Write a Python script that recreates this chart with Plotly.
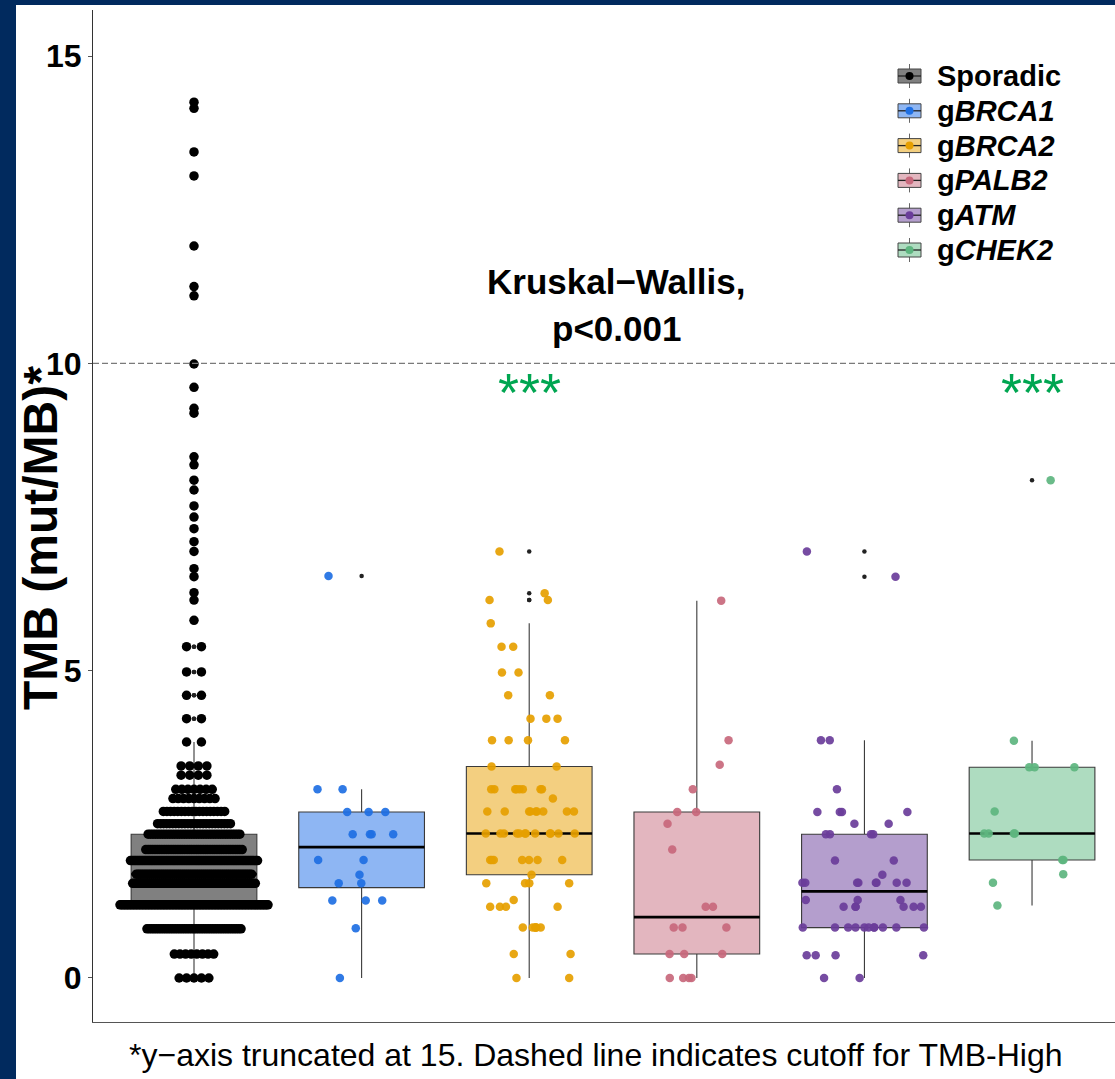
import numpy as np
import plotly.graph_objects as go

# ---------------- data ----------------
groups = ["Sporadic", "gBRCA1", "gBRCA2", "gPALB2", "gATM", "gCHEK2"]
legend_labels = ["<b>Sporadic</b>", "<b>g<i>BRCA1</i></b>", "<b>g<i>BRCA2</i></b>",
                 "<b>g<i>PALB2</i></b>", "<b>g<i>ATM</i></b>", "<b>g<i>CHEK2</i></b>"]

sporadic_tmb = [0.00, 0.39, 0.80, 1.19, 1.54, 1.69, 1.91, 2.09, 2.34, 2.51, 2.71, 2.92,
                3.07, 3.30, 3.45, 3.84, 4.22, 4.60, 4.98, 5.39, 5.82, 6.15, 6.27, 6.53,
                6.66, 6.94, 7.10, 7.31, 7.50, 7.68, 7.94, 8.10, 8.35, 8.48, 9.19, 9.27,
                9.61, 9.99, 11.10, 11.25, 11.91, 13.05, 13.44, 14.15, 14.25]
sporadic_n = [5, 8, 41, 100, 69, 61, 74, 43, 39, 25, 18, 9,
              7, 4, 4, 2, 2, 2, 2, 2, 1, 1, 1, 1,
              1, 1, 1, 1, 1, 1, 1, 1, 1, 1, 1, 1,
              1, 1, 1, 1, 1, 1, 1, 1, 1]

brca1_tmb = [0.00, 0.81, 1.26, 1.54, 1.68, 1.92, 2.34, 2.70, 3.07, 6.54]
brca1_n = [1, 1, 3, 2, 1, 2, 4, 3, 2, 1]

brca2_tmb = [0.00, 0.39, 0.82, 1.16, 1.27, 1.54, 1.68, 1.92, 2.35, 2.71, 2.92, 3.07,
             3.44, 3.87, 4.22, 4.60, 4.97, 5.39, 5.77, 6.15, 6.26, 6.94]
brca2_n = [2, 2, 6, 4, 1, 4, 1, 7, 12, 9, 1, 8, 2, 4, 3, 2, 2, 2, 1, 2, 1, 1]

palb2_tmb = [0.00, 0.39, 0.82, 1.16, 2.09, 2.51, 2.70, 3.07, 3.47, 3.87, 6.14]
palb2_n = [4, 3, 3, 2, 1, 1, 2, 1, 1, 1, 1]

atm_tmb = [0.00, 0.37, 0.82, 1.16, 1.27, 1.55, 1.68, 1.91, 2.34, 2.51, 2.70, 3.07,
           3.87, 6.53, 6.94]
atm_n = [2, 4, 11, 6, 3, 8, 1, 2, 4, 2, 4, 1, 2, 1, 1]

chek2_tmb = [1.18, 1.55, 1.69, 1.92, 2.35, 2.71, 3.43, 3.86, 8.10]
chek2_n = [1, 1, 1, 2, 4, 1, 3, 1, 1]

tmb_high_cutoff = 10
y_ticks = [0, 5, 10, 15]
kw_label = ["Kruskal\u2212Wallis,", "p<0.001"]
sig_groups = ["gBRCA2", "gCHEK2"]
y_title = "TMB (mut/MB)*"
caption = "*y\u2212axis truncated at 15. Dashed line indicates cutoff for TMB-High"

# ---------------- styles ----------------
point_colors = ["#000000", "#1E6FE3", "#E69F00", "#C8687C", "#6A3D9A", "#5DB57F"]
fill_colors = ["#808080", "#8EB6F3", "#F3CF80", "#E3B6BF", "#B49ECD", "#AEDCC0"]
jitter_half = [None, 0.27, 0.28, 0.20, 0.37, 0.30]
FONT = "Liberation Sans, Arial, sans-serif"
NAVY = "#012A5E"
L, R, T, B = 93, 0, 10, 57
W, H = 1115, 1079
pw, ph = W - L - R, H - T - B


def px_x(px):
    return (px - L) / pw


def px_y(py):
    return (H - B - py) / ph


series = [(sporadic_tmb, sporadic_n), (brca1_tmb, brca1_n), (brca2_tmb, brca2_n),
          (palb2_tmb, palb2_n), (atm_tmb, atm_n), (chek2_tmb, chek2_n)]

box_w = 0.75
fig = go.Figure()


def expand(vals, ns):
    return np.repeat(np.array(vals, dtype=float), ns)


def jitter_offsets(n, half, seed):
    # deterministic hash-based jitter (layout only)
    i = np.arange(n, dtype=float)
    r = np.modf(np.abs(np.sin((i + 1.0) * 12.9898 + seed * 78.233) * 43758.5453))[0]
    return (r - 0.5) * 2 * half


def swarm_offsets(vals, ns, span_max):
    kmax = max(ns)
    offs = []
    for v, k in zip(vals, ns):
        if k == 1:
            offs.append(np.zeros(1))
        else:
            s = span_max * np.sqrt((k - 1) / (kmax - 1))
            offs.append(np.linspace(-s / 2, s / 2, k))
    return np.concatenate(offs)


stats = []
for gi, (vals, ns) in enumerate(series):
    y = expand(vals, ns)
    q1, med, q3 = np.percentile(y, [25, 50, 75])
    iqr = q3 - q1
    lo = y[y >= q1 - 1.5 * iqr].min()
    hi = y[y <= q3 + 1.5 * iqr].max()
    outl = y[(y < lo) | (y > hi)]
    stats.append((y, q1, med, q3, lo, hi, outl))
    fig.add_trace(go.Box(
        x=[gi], q1=[q1], median=[med], q3=[q3], lowerfence=[lo], upperfence=[hi],
        width=box_w, whiskerwidth=0, fillcolor=fill_colors[gi],
        line=dict(color="#3a3a3a", width=1.1), boxpoints=False,
        name=groups[gi], hoverinfo="skip", showlegend=False))

# median lines (thicker, as in ggplot)
for gi, st in enumerate(stats):
    med = st[2]
    fig.add_trace(go.Scatter(x=[gi - box_w / 2, gi + box_w / 2], y=[med, med], mode="lines",
                             line=dict(color="black", width=2.6), showlegend=False,
                             hoverinfo="skip"))

# boxplot outliers (small dark dots)
for gi, st in enumerate(stats):
    outl = st[6]
    if len(outl):
        fig.add_trace(go.Scatter(x=np.full(len(outl), gi), y=outl, mode="markers",
                                 marker=dict(size=4.5, color="#222222"),
                                 showlegend=False, hoverinfo="skip"))

# data points
for gi, (vals, ns) in enumerate(series):
    y = stats[gi][0]
    if gi == 0:
        off = swarm_offsets(vals, ns, 0.883)
        size, op = 9.5, 1.0
    else:
        off = jitter_offsets(len(y), jitter_half[gi], gi)
        size, op = 8.5, 0.92
    fig.add_trace(go.Scatter(x=gi + off, y=y, mode="markers",
                             marker=dict(size=size, color=point_colors[gi], opacity=op,
                                         line=dict(width=0)),
                             showlegend=False, hoverinfo="skip"))

# ---------------- shapes ----------------
# white panel over the navy frame
fig.add_shape(type="rect", xref="paper", yref="paper", x0=px_x(16), x1=px_x(W) + 0.01,
              y0=px_y(H) - 0.01, y1=px_y(5), fillcolor="white", line=dict(width=0),
              layer="below")
# dashed TMB-high cutoff line
fig.add_shape(type="line", xref="paper", yref="y", x0=0, x1=1, y0=tmb_high_cutoff,
              y1=tmb_high_cutoff, line=dict(color="#7a7a7a", width=1.3, dash="6px,3px"),
              layer="above")

# hand-drawn legend (box glyph keys)
annotations = []
leg_x0, leg_x1, leg_cx = 898, 921, 909.5
for gi, lab in enumerate(legend_labels):
    cy = 76 + 34.8 * gi
    fig.add_shape(type="line", xref="paper", yref="paper", x0=px_x(leg_cx), x1=px_x(leg_cx),
                  y0=px_y(cy + 12), y1=px_y(cy - 12), line=dict(color="#666666", width=1))
    fig.add_shape(type="rect", xref="paper", yref="paper", x0=px_x(leg_x0), x1=px_x(leg_x1),
                  y0=px_y(cy + 7), y1=px_y(cy - 7), fillcolor=fill_colors[gi],
                  line=dict(color="#444444", width=1))
    fig.add_shape(type="line", xref="paper", yref="paper", x0=px_x(leg_x0), x1=px_x(leg_x1),
                  y0=px_y(cy), y1=px_y(cy), line=dict(color="#222222", width=1.3))
    fig.add_shape(type="circle", xref="paper", yref="paper", x0=px_x(leg_cx - 4),
                  x1=px_x(leg_cx + 4), y0=px_y(cy + 4), y1=px_y(cy - 4),
                  fillcolor=point_colors[gi], line=dict(width=0))
    annotations.append(dict(x=px_x(935), y=px_y(cy), xref="paper", yref="paper", text=lab,
                            showarrow=False, xanchor="left", yanchor="middle",
                            font=dict(family=FONT, size=29, color="black")))

annotations += [
    dict(x=2.52, y=px_y(281), xref="x", yref="paper", text="<b>%s</b>" % kw_label[0],
         showarrow=False, font=dict(family=FONT, size=35, color="black"),
         xanchor="center", yanchor="middle"),
    dict(x=2.52, y=px_y(329), xref="x", yref="paper", text="<b>%s</b>" % kw_label[1],
         showarrow=False, font=dict(family=FONT, size=35, color="black"),
         xanchor="center", yanchor="middle"),
    dict(x=px_x(40), y=px_y(538), xref="paper", yref="paper",
         text="<b>%s</b>" % y_title, textangle=-90, showarrow=False,
         font=dict(family=FONT, size=48, color="black"), xanchor="center", yanchor="middle"),
    dict(x=px_x(596), y=px_y(1055), xref="paper", yref="paper", text=caption,
         showarrow=False, font=dict(family=FONT, size=32, color="black"),
         xanchor="center", yanchor="middle"),
]
for g in sig_groups:
    annotations.append(dict(x=groups.index(g), y=px_y(392), xref="x", yref="paper",
                            text="***", showarrow=False,
                            font=dict(family=FONT, size=54, color="#00A651"),
                            xanchor="center", yanchor="middle"))

fig.update_layout(
    width=W, height=H, autosize=False,
    margin=dict(l=L, r=R, t=T, b=B, pad=0),
    paper_bgcolor=NAVY, plot_bgcolor="white",
    font=dict(family=FONT, color="black"),
    showlegend=False,
    xaxis=dict(range=[-0.6026, 5.495], showticklabels=False, ticks="", showgrid=False,
               zeroline=False, showline=True, linecolor="#555555", linewidth=1.2),
    yaxis=dict(range=[-0.716, 15.75], tickvals=y_ticks, ticktext=[str(t) for t in y_ticks],
               tickfont=dict(family=FONT, size=32, color="black", weight="bold"),
               ticks="outside", ticklen=4, tickcolor="#555555", showgrid=False, zeroline=False,
               showline=True, linecolor="#333333", linewidth=1.2),
    annotations=annotations,
)

fig.write_html("out.html", config={"displayModeBar": False},
               post_script="document.body.style.margin='0';document.body.style.overflow='hidden';")
